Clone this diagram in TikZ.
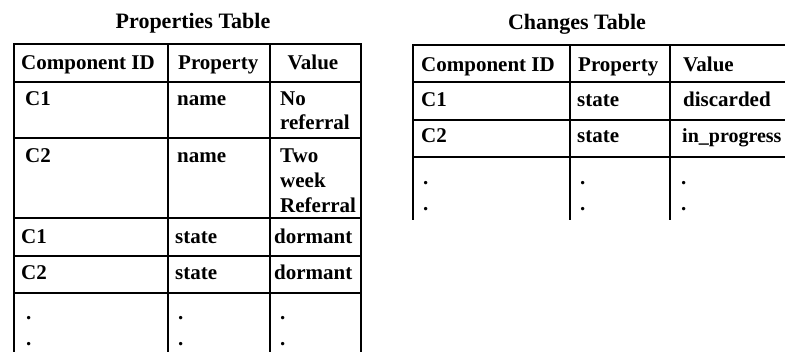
\documentclass[tikz,border=0pt]{standalone}
\usepackage{fontspec}
\setmainfont{Liberation Serif}
\begin{document}
\begin{tikzpicture}[x=1pt,y=-1pt,
  txt/.style={inner sep=0pt,anchor=base west,font=\fontsize{21}{24}\selectfont\bfseries},
  ctxt/.style={txt,anchor=base},
  ttl/.style={inner sep=0pt,anchor=base,font=\fontsize{22}{26}\selectfont\bfseries},
  outer/.style={line width=2.6pt},
  inner/.style={line width=1.4pt}]
\useasboundingbox (0,0) rectangle (785,352);
% ---------- Properties table ----------
\node[ttl] (ptitle) at (193,29) {Properties Table};
\draw[inner] (14,82) -- (361,82) (14,138) -- (361,138) (14,218) -- (361,218)
  (14,256) -- (361,256) (14,293) -- (361,293);
\draw[inner] (168,44) -- (168,352) (270,44) -- (270,352);
\draw[outer] (14,352) -- (14,44) -- (361,44) -- (361,352);
\node[txt] (ph1) at (21,70) {Component ID};
\node[txt] (ph2) at (178,70) {Property};
\node[ctxt] (ph3) at (313,70) {Value};
\node[txt] (p1a) at (25,106) {C1};
\node[txt] (p1b) at (177,106) {name};
\node[txt] (p1c) at (280,106) {No};
\node[txt] (p1d) at (280,130) {referral};
\node[txt] (p2a) at (25,163) {C2};
\node[txt] (p2b) at (177,163) {name};
\node[txt] (p2c) at (280,163) {Two};
\node[txt] (p2d) at (280,188) {week};
\node[txt] (p2e) at (280,213) {Referral};
\node[txt] (p3a) at (21,244) {C1};
\node[txt] (p3b) at (175,244) {state};
\node[txt] (p3c) at (274,244) {dormant};
\node[txt] (p4a) at (21,280) {C2};
\node[txt] (p4b) at (175,280) {state};
\node[txt] (p4c) at (274,280) {dormant};
\node[txt] (p5a) at (26,320) {.};
\node[txt] (p5b) at (178,320) {.};
\node[txt] (p5c) at (280,320) {.};
\node[txt] (p6a) at (26,346) {.};
\node[txt] (p6b) at (178,346) {.};
\node[txt] (p6c) at (280,346) {.};
% ---------- Changes table ----------
\node[ttl] (ctitle) at (577,30) {Changes Table};
\draw[inner] (413,82) -- (785,82) (413,120) -- (785,120) (413,157) -- (785,157);
\draw[inner] (570,45) -- (570,220) (670,45) -- (670,220);
\draw[outer] (413,220) -- (413,45) -- (785,45);
\node[txt] (ch1) at (421,72) {Component ID};
\node[txt] (ch2) at (578,72) {Property};
\node[txt] (ch3) at (683,72) {Value};
\node[txt] (c1a) at (421,107) {C1};
\node[txt] (c1b) at (577,107) {state};
\node[txt] (c1c) at (683,107) {discarded};
\node[txt] (c2a) at (421,143) {C2};
\node[txt] (c2b) at (577,143) {state};
\node[txt,font=\fontsize{20}{24}\selectfont\bfseries] (c2c) at (682,143) {in\_progress};
\node[txt] (c3a) at (423,185) {.};
\node[txt] (c3b) at (580,185) {.};
\node[txt] (c3c) at (681,185) {.};
\node[txt] (c4a) at (423,211) {.};
\node[txt] (c4b) at (580,211) {.};
\node[txt] (c4c) at (681,211) {.};
\end{tikzpicture}
\end{document}
